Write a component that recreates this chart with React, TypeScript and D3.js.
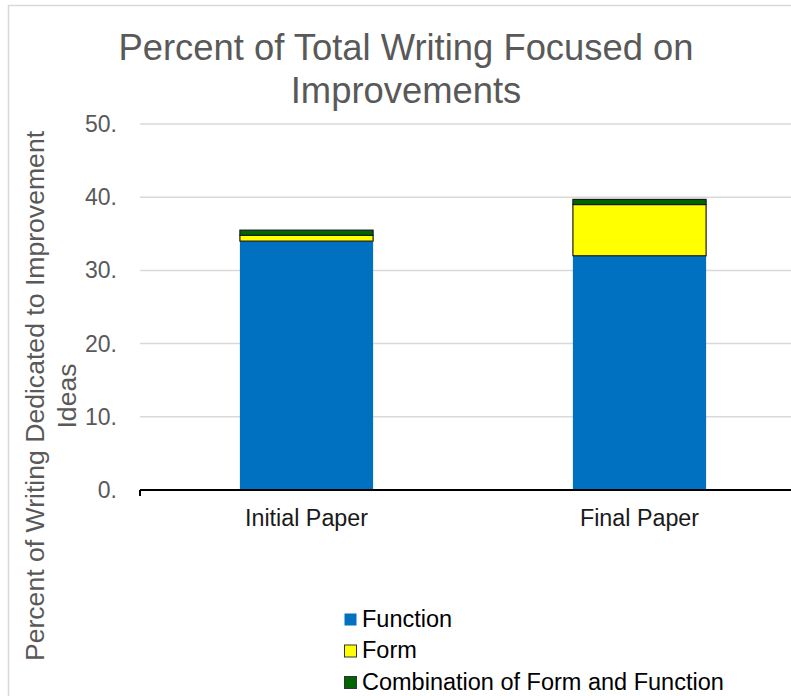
import React from "react";
import * as d3 from "d3";

const categories = ["Initial Paper", "Final Paper"];
const seriesNames = ["Function", "Form", "Combination of Form and Function"];
const functionValues = [34.0, 32.0];
const formValues = [0.8, 7.0];
const comboValues = [0.7, 0.7];
const tickValues = [0, 10, 20, 30, 40, 50];
const tickLabels = ["0.", "10.", "20.", "30.", "40.", "50."];
const colors = ["#0070C0", "#FFFF00", "#006400"];

const FONT = "'Liberation Sans', Arial, sans-serif";

export default function App() {
  const W = 791, H = 696;
  const y = d3.scaleLinear().domain([0, 50]).range([490, 124]);
  const x = d3.scaleBand<string>().domain(categories).range([140, 806]).paddingInner(0.6).paddingOuter(0.3);

  const rows = categories.map((c, i) => ({
    cat: c,
    Function: functionValues[i],
    Form: formValues[i],
    "Combination of Form and Function": comboValues[i],
  }));
  const stack = d3.stack<any>().keys(seriesNames)(rows);

  return (
    <svg width={W} height={H} style={{ position: "absolute", left: 0, top: 0, fontFamily: FONT }}>
      <rect x={0} y={0} width={W} height={H} fill="#fff" />
      <rect x={8.5} y={5.5} width={W + 20} height={H + 20} fill="none" stroke="#d9d9d9" strokeWidth={1.5} />
      <text x={406} y={60} textAnchor="middle" fontSize={36.4} fill="#595959">Percent of Total Writing Focused on</text>
      <text x={406} y={103} textAnchor="middle" fontSize={36.4} fill="#595959">Improvements</text>

      {tickValues.map((t, i) => (
        <g key={t}>
          {t !== 0 && <line x1={140} x2={W} y1={y(t)} y2={y(t)} stroke="#d9d9d9" strokeWidth={1.5} />}
          <text x={117} y={y(t) + 8} textAnchor="end" fontSize={23} fill="#595959">{tickLabels[i]}</text>
        </g>
      ))}

      {stack.map((s, si) => (
        <g key={s.key}>
          {s.map((d, di) => (
            <rect
              key={di}
              x={x(categories[di])!}
              y={y(d[1])}
              width={x.bandwidth()}
              height={y(d[0]) - y(d[1])}
              fill={colors[si]}
              stroke={si === 0 ? "none" : "#1a1a1a"}
              strokeWidth={si === 0 ? 0 : 1.2}
            />
          ))}
        </g>
      ))}

      <line x1={140} x2={W} y1={y(0)} y2={y(0)} stroke="#000" strokeWidth={2} />
      <line x1={140} x2={140} y1={y(0)} y2={y(0) + 6} stroke="#000" strokeWidth={2} />

      {categories.map((c) => (
        <text key={c} x={x(c)! + x.bandwidth() / 2} y={526} textAnchor="middle" fontSize={23.3} fill="#1a1a1a">{c}</text>
      ))}

      <g transform="translate(44,396) rotate(-90)">
        <text x={0} y={0} textAnchor="middle" fontSize={26.6} fill="#595959">Percent of Writing Dedicated to Improvement</text>
        <text x={0} y={32} textAnchor="middle" fontSize={26.6} fill="#595959">Ideas</text>
      </g>

      {seriesNames.map((n, i) => (
        <g key={n} transform={`translate(344,${613 + i * 31.5})`}>
          <rect x={0.5} y={0.5} width={12} height={12} fill={colors[i]} stroke={i === 0 ? "none" : "#333"} strokeWidth={1} />
          <text x={18} y={13.5} fontSize={23.5} fill="#000">{n}</text>
        </g>
      ))}
    </svg>
  );
}
